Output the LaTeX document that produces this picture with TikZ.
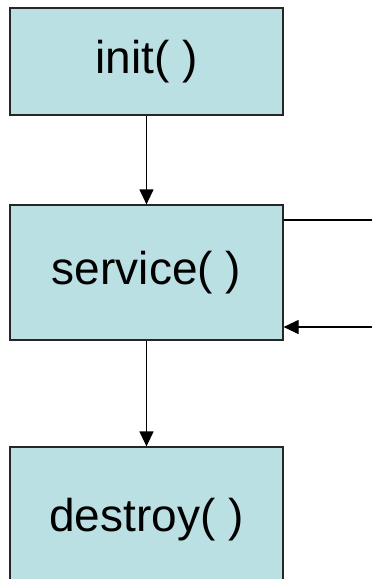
\documentclass[tikz,border=0pt]{standalone}
\usepackage{fontspec}
\setmainfont{Liberation Sans}
\usetikzlibrary{arrows.meta}
\definecolor{boxblue}{HTML}{BBE0E3}

\begin{document}
\begin{tikzpicture}[x=1pt, y=-1pt,
  method/.style={draw=black!85, line width=1.2pt, fill=boxblue, minimum width=273pt, inner sep=0pt, font=\fontsize{46}{50}\selectfont},
  flow/.style={line width=1.2pt, -{Triangle[width=14pt,length=15pt]}}]
\useasboundingbox (0,0) rectangle (372,579);
\clip (0,0) rectangle (372,579);
\node[method, minimum height=107pt] (init) at (146.5,61.5) {init( )};
\node[method, minimum height=135pt] (service) at (146.5,272.5) {service( )};
\node[method, minimum height=146pt] (destroy) at (146.5,520) {destroy( )}; % runs off the page
\coordinate (loopout) at (372,220);
\coordinate (loopin) at (372,327);
\draw[flow] (init) -- (service);
\draw[flow] (service) -- (destroy);
\draw[line width=1.2pt] (service.east |- loopout) -- (loopout); % loop back into service
\draw[flow] (loopin) -- (service.east |- loopin);
\end{tikzpicture}
\end{document}
